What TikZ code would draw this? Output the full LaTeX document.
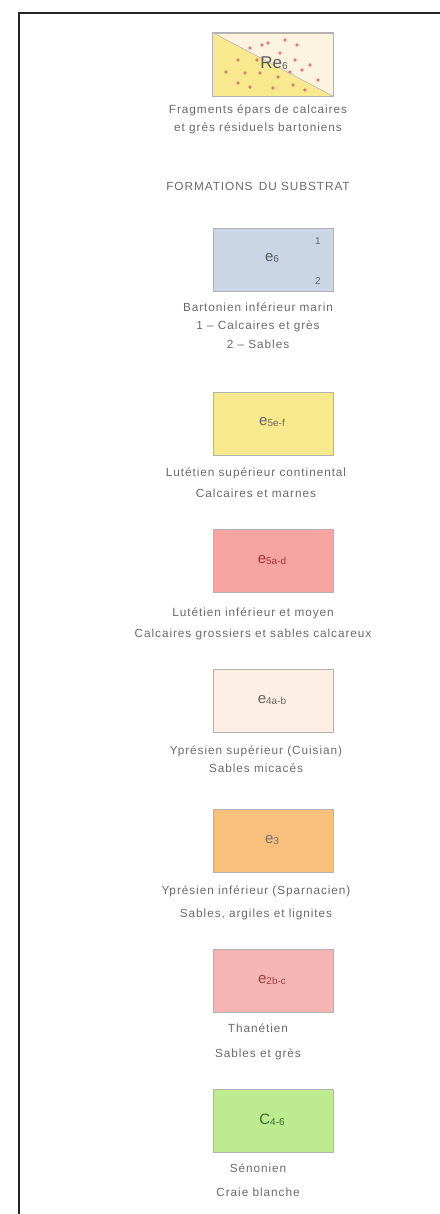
\documentclass[tikz,border=0pt]{standalone}
\usepackage{fontspec}
\setmainfont{Liberation Sans}
\newfontfamily\lgfont[LetterSpace=8]{Liberation Sans}
\definecolor{txt}{HTML}{6A6A6A}
\definecolor{cYel}{HTML}{F9E98E}
\definecolor{cCreamA}{HTML}{FBF3DE}
\definecolor{cBlue}{HTML}{CAD6E6}
\definecolor{cRed}{HTML}{F6A5A2}
\definecolor{cCream}{HTML}{FCEEE3}
\definecolor{cOrange}{HTML}{F8C07C}
\definecolor{cPink}{HTML}{F5B5B4}
\definecolor{cGreen}{HTML}{BEEA90}
\definecolor{dotR}{HTML}{E07A86}
\definecolor{dotO}{HTML}{D8806A}
\tikzset{
  legbox/.style={draw=black!30, line width=0.7pt, minimum width=120pt, minimum height=63pt, inner sep=0pt},
  legtext/.style={font=\lgfont\fontsize{11.8}{13}\selectfont, text=txt, anchor=base, inner sep=0pt},
  legsym/.style={font=\fontsize{15}{15}\selectfont, inner sep=0pt},
  frameline/.style={line width=2.4pt, draw=black!85}
}
\newcommand{\sym}[2]{#1\raisebox{-1.5pt}{\fontsize{10}{10}\selectfont #2}}
\begin{document}
\begin{tikzpicture}[x=1pt,y=-1pt]
\useasboundingbox (0,0) rectangle (439,1214);
% frame
\coordinate (fTR) at (440,13);
\coordinate (fTL) at (19,13);
\coordinate (fBL) at (19,1215);
\draw[frameline] (fTR) -- (fTL) -- (fBL);

% top box (residual)
\node[legbox, fill=cCreamA] (b0) at (273,64.5) {};
\fill[cYel] (b0.north west) -- (b0.south east) -- (b0.south west) -- cycle;
\draw[black!30, line width=0.5pt] (b0.north west) -- (b0.south east);
\foreach \p in {(268,43),(285,40),(297,45),(250,48),(280,53),(295,60),(302,70),(310,65),(290,72),(318,80),(262,45)}
  \fill[dotR] \p circle (1.8pt);
\foreach \p in {(238,60),(257,60),(245,73),(260,73),(278,77),(250,87),(273,88),(293,85),(238,83),(226,72),(305,90)}
  \fill[dotO] \p circle (1.8pt);
\draw[black!30, line width=0.7pt] (b0.north west) rectangle (b0.south east);
\node[font=\fontsize{17}{17}\selectfont, text=black!65, inner sep=0pt] (l0) at (274,63) {\sym{Re}{6}};

\node[legtext] (t0a) at (258,114) {Fragments épars de calcaires};
\node[legtext] (t0b) at (258,132) {et grès résiduels bartoniens};
\node[legtext] (h) at (258,191) {FORMATIONS\, DU SUBSTRAT};

% e6
\node[legbox, fill=cBlue] (b1) at (273,260) {};
\node[legsym, text=black!65] (l1) at (272,258) {\sym{e}{6}};
\node[font=\fontsize{10}{10}\selectfont, text=black!60] (n1) at (318,241) {1};
\node[font=\fontsize{10}{10}\selectfont, text=black!60] (n2) at (318,281) {2};
\node[legtext] (t1a) at (258,311) {Bartonien inférieur marin};
\node[legtext] (t1b) at (258,329) {1 – Calcaires et grès};
\node[legtext] (t1c) at (258,348) {2 – Sables};

% e5e-f
\node[legbox, fill=cYel] (b2) at (273,423.5) {};
\node[legsym, text=black!60] (l2) at (272,422) {\sym{e}{5e-f}};
\node[legtext] (t2a) at (256,476) {Lutétien supérieur continental};
\node[legtext] (t2b) at (256,497) {Calcaires et marnes};

% e5a-d
\node[legbox, fill=cRed] (b3) at (273,561) {};
\node[legsym, text=red!55!black!80] (l3) at (272,560) {\sym{e}{5a-d}};
\node[legtext] (t3a) at (253,616) {Lutétien inférieur et moyen};
\node[legtext] (t3b) at (253,637) {Calcaires grossiers et sables calcareux};

% e4a-b
\node[legbox, fill=cCream] (b4) at (273,701) {};
\node[legsym, text=black!60] (l4) at (272,700) {\sym{e}{4a-b}};
\node[legtext] (t4a) at (256,754) {Yprésien supérieur (Cuisian)};
\node[legtext] (t4b) at (256,772) {Sables micacés};

% e3
\node[legbox, fill=cOrange] (b5) at (273,840.5) {};
\node[legsym, text=black!55] (l5) at (272,840) {\sym{e}{3}};
\node[legtext] (t5a) at (256,894) {Yprésien inférieur (Sparnacien)};
\node[legtext] (t5b) at (256,917) {Sables, argiles et lignites};

% e2b-c
\node[legbox, fill=cPink] (b6) at (273,980.5) {};
\node[legsym, text=red!50!black!75] (l6) at (272,980) {\sym{e}{2b-c}};
\node[legtext] (t6a) at (258,1032) {Thanétien};
\node[legtext] (t6b) at (258,1057) {Sables et grès};

% C4-6
\node[legbox, fill=cGreen] (b7) at (273,1120.5) {};
\node[legsym, text=green!30!black!80] (l7) at (272,1120) {\sym{C}{4-6}};
\node[legtext] (t7a) at (258,1172) {Sénonien};
\node[legtext] (t7b) at (258,1196) {Craie blanche};
\end{tikzpicture}
\end{document}
